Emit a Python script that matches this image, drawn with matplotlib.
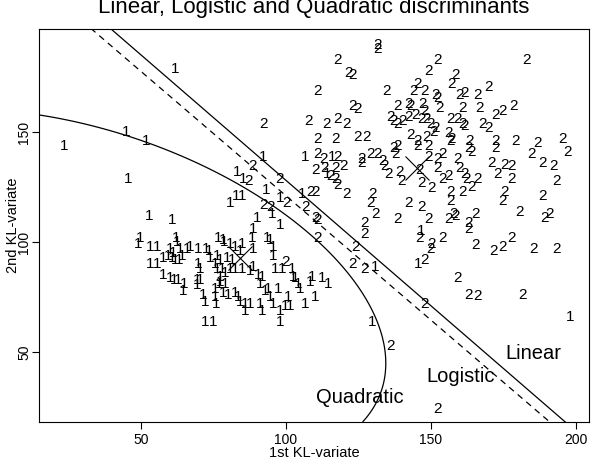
import numpy as np
import matplotlib
matplotlib.use('Agg')
import matplotlib.pyplot as plt

plt.rcParams['font.family'] = ['Liberation Sans', 'DejaVu Sans']

# ---------------- data ----------------
class1_x = [61.7, 44.8, 51.7, 23.4, 45.5, 92.1, 83.1, 85.2, 93.1, 82.8, 84.8, 80.7, 97.9, 95.2, 90.0,
            97.9, 88.6, 106.6, 115.9, 114.1, 105.5, 146.6, 145.5, 130.7, 129.7, 197.9,
            52.8, 60.7, 49.0, 49.7, 53.1, 55.5, 62.1, 62.4, 60.0, 61.0, 63.4, 65.9, 66.9, 69.7, 72.4,
            57.6, 59.3, 60.7, 61.7, 63.1, 64.1, 53.1, 55.5, 57.6, 60.0, 61.4, 62.8, 64.8, 64.5, 69.3,
            70.3, 69.3, 69.7, 70.3, 73.4, 73.8, 75.5, 76.2, 76.2, 77.2, 77.9, 77.2, 76.9, 75.5, 76.6,
            78.6, 71.4, 72.1, 75.5, 75.9, 72.1, 74.8, 78.3, 80.7, 82.4, 84.8, 84.1, 79.7, 81.4, 79.0,
            80.7, 82.4, 84.8, 87.6, 88.6, 90.3, 91.7, 88.3, 93.4, 94.5, 95.5, 88.6, 95.5, 96.2, 98.6,
            102.1, 103.1, 104.1, 104.8, 108.3, 112.4, 114.5, 78.3, 80.0, 82.4, 83.4, 84.1, 85.9, 87.6,
            85.9, 91.0, 91.7, 93.8, 94.5, 95.5, 97.2, 97.9, 97.9, 99.7, 101.4, 100.7, 106.6, 110.0,
            91.0, 92.8, 77.2, 79.0, 109.0, 102.4]
class1_y = [179.1, 150.5, 146.8, 144.1, 129.1, 139.5, 132.3, 129.1, 124.5, 121.4, 121.4, 118.2, 120.5, 113.6, 111.8,
            108.6, 106.8, 139.5, 139.5, 131.4, 122.7, 105.5, 90.5, 89.5, 64.5, 66.4,
            112.3, 110.9, 100.0, 102.3, 98.2, 98.6, 102.3, 100.5, 97.3, 95.9, 97.3, 97.7, 98.2, 97.7, 97.3,
            93.2, 94.1, 93.2, 92.3, 92.7, 94.1, 90.5, 90.5, 85.9, 84.1, 83.6, 83.6, 81.4, 78.2, 83.6,
            83.2, 81.0, 90.9, 88.2, 96.4, 93.2, 90.9, 88.6, 94.1, 92.7, 88.2, 85.0, 81.8, 79.1, 102.3,
            100.9, 76.8, 73.6, 75.9, 72.7, 64.5, 64.5, 101.8, 100.0, 98.6, 100.0, 96.4, 93.2, 92.7, 86.4,
            88.6, 88.2, 88.6, 87.3, 89.5, 85.9, 85.0, 102.3, 102.3, 101.8, 98.6, 97.3, 94.1, 88.6, 88.6,
            88.2, 84.1, 81.4, 79.5, 82.7, 84.1, 81.4, 77.3, 76.8, 77.3, 75.9, 73.6, 72.7, 72.7,
            69.1, 72.7, 69.1, 79.5, 75.9, 72.7, 79.1, 69.1, 64.5, 71.4, 71.4, 75.9, 72.3, 75.9,
            81.4, 78.2, 82.7, 81.8, 85.0, 85.0]

class2_x = [92.1, 88.6, 97.9, 92.1, 94.5, 100.0, 99.7, 110.7, 106.6, 110.0, 110.7, 86.9,
            131.4, 131.7, 117.9, 121.4, 122.8, 152.1, 183.1, 149.0, 158.3, 157.2, 111.0, 134.8, 145.2,
            143.8, 147.9, 151.4, 152.1, 160.0, 161.7, 166.2, 170.0,
            123.1, 124.8, 138.3, 142.1, 142.8, 147.2, 147.9, 153.1, 161.0, 166.9, 172.1, 174.5, 178.3,
            107.9, 114.1, 117.9, 121.0, 135.9, 136.9, 138.6, 140.3, 142.1, 144.5, 146.9, 148.6, 149.7,
            151.4, 156.6, 159.0, 160.7, 161.7, 167.9, 169.7,
            111.0, 116.9, 124.8, 127.9, 142.8, 145.2, 148.6, 150.7, 155.9, 157.2, 156.6, 163.4, 172.1,
            179.0, 186.9, 195.5, 197.2, 136.9, 137.6,
            110.7, 112.8, 117.9, 110.0, 113.4, 116.9, 119.7, 115.2, 116.9, 117.6, 121.0, 108.3, 110.0,
            126.2, 126.2, 129.0, 131.7, 133.4, 134.1, 138.3, 135.2, 139.3, 140.0,
            149.0, 149.0, 152.4, 153.8, 159.3, 162.8, 164.1, 172.1, 184.8, 188.3, 192.1, 145.2, 146.2,
            146.9, 150.3,
            129.7, 129.0, 130.7, 142.1, 146.9, 149.0, 138.3, 127.2, 127.2, 123.8, 146.2, 150.3, 149.7,
            123.1, 127.2, 147.9, 154.1, 159.0, 162.8, 166.2, 181.4,
            165.2, 171.4, 174.5, 177.9, 185.2, 193.4, 147.9, 165.2, 162.8, 162.8, 157.6, 155.9, 158.3,
            180.7, 189.3, 191.0, 188.3, 174.5, 175.5, 156.6, 156.6, 161.0, 164.1, 154.1, 155.9, 160.0,
            161.7, 162.4, 165.9, 171.0, 173.1, 175.5, 177.9, 177.9, 193.4, 152.1, 135.9, 152.1]
class2_y = [154.1, 135.0, 129.5, 117.7, 116.8, 118.2, 91.8, 102.3, 116.8, 111.4, 110.9, 128.2,
            190.0, 188.6, 183.2, 177.3, 176.8, 183.2, 183.2, 178.2, 176.8, 172.3, 169.1, 169.1, 172.7,
            169.1, 169.1, 167.7, 165.9, 167.7, 168.2, 167.7, 170.9,
            162.3, 160.9, 162.3, 163.6, 162.3, 163.6, 160.0, 161.4, 161.4, 161.4, 158.6, 160.0, 162.3,
            155.5, 154.5, 156.4, 154.1, 157.7, 155.5, 154.1, 155.5, 157.7, 158.6, 156.8, 156.4, 154.1,
            152.3, 156.8, 156.4, 154.1, 153.2, 154.1, 152.3,
            147.3, 147.3, 148.6, 148.6, 149.5, 146.4, 148.6, 150.9, 150.0, 147.7, 146.4, 146.4, 146.4,
            146.4, 145.5, 147.7, 141.8, 143.2, 140.9,
            140.5, 138.6, 139.5, 133.6, 134.1, 134.1, 135.0, 130.5, 129.5, 126.8, 122.7, 123.6, 123.6,
            138.6, 136.4, 140.9, 140.9, 137.3, 135.0, 144.1, 131.8, 132.7, 128.2,
            144.1, 139.5, 138.6, 140.5, 138.6, 143.2, 141.8, 143.2, 140.5, 136.4, 135.0, 144.1, 133.6,
            127.3, 125.0,
            122.3, 118.2, 113.6, 118.2, 116.8, 111.0, 111.0, 109.1, 104.1, 98.6, 102.3, 100.0, 97.7,
            90.9, 88.2, 92.7, 102.3, 84.5, 76.8, 76.0, 76.8,
            99.5, 96.4, 98.6, 102.3, 97.3, 97.7, 72.3, 113.2, 109.1, 106.4, 113.2, 111.0, 112.3,
            114.5, 111.4, 113.6, 121.4, 119.1, 123.6, 123.6, 119.1, 123.6, 125.5, 129.1, 130.5, 134.1,
            131.8, 129.5, 129.5, 136.4, 131.4, 135.9, 135.0, 129.5, 128.2, 134.1, 53.2, 25.0]

# group means (drawn as crosses)
means_x = [84.1, 145.2]
means_y = [92.7, 133.6]

# linear and logistic boundaries: intercept, slope
linear_coef = (242.0, -1.14)
logistic_coef = (234.0, -1.13)

# points traced along the quadratic boundary (a conic is fitted through them)
quad_x = [16.6, 44.8, 52.1, 66.9, 79.7, 88.6, 95.5, 100.3, 109.3, 111.7, 119.7, 126.6, 130.0,
          133.4, 134.8, 133.8, 131.7, 129.7, 126.9]
quad_y = [156.4, 150.0, 146.4, 137.3, 126.8, 121.4, 115.5, 112.3, 103.2, 99.5, 88.6, 78.2, 69.1,
          55.5, 46.4, 37.3, 30.5, 24.1, 18.2]

curve_labels = ['Linear', 'Logistic', 'Quadratic']
label_x = [185.2, 160.3, 125.5]
label_y = [49.5, 39.1, 29.5]

xticks = [50, 100, 150, 200]
yticks = [50, 100, 150]

# ---------------- figure ----------------
W, H = 602, 462
fig = plt.figure(figsize=(W / 100, H / 100), dpi=100)
ax = fig.add_axes([39 / W, 1 - 422 / H, 550 / W, 393 / H])
ax.set_xlim(14.8, 204.5)
ax.set_ylim(18.2, 196.8)

for x, y in zip(class1_x, class1_y):
    ax.text(x, y, '1', ha='center', va='center_baseline', fontsize=11)
for x, y in zip(class2_x, class2_y):
    ax.text(x, y, '2', ha='center', va='center_baseline', fontsize=11)

ax.plot(means_x, means_y, linestyle='none', marker='x', markersize=17,
        markeredgewidth=0.8, color='black')

xs = np.linspace(0, 220, 400)
ax.plot(xs, linear_coef[0] + linear_coef[1] * xs, color='black', lw=0.9)
ax.plot(xs, logistic_coef[0] + logistic_coef[1] * xs, color='black', lw=0.9,
        linestyle=(0, (5, 4)))

# weighted conic fit for quadratic boundary
qx = (np.array(quad_x) - 100) / 50
qy = (np.array(quad_y) - 100) / 50
wts = np.where(np.array(quad_y) < 60, 4.0, 1.0)
D = np.column_stack([qx**2, qx * qy, qy**2, qx, qy, np.ones_like(qx)]) * wts[:, None]
_, _, Vt = np.linalg.svd(D)
c = Vt[-1]
gx, gy = np.meshgrid(np.linspace(14.8, 204.5, 600), np.linspace(18.2, 196.8, 600))
u = (gx - 100) / 50
v = (gy - 100) / 50
F = c[0] * u**2 + c[1] * u * v + c[2] * v**2 + c[3] * u + c[4] * v + c[5]
# keep only the arc near the traced points
mask = (gx > 140) | ((gx > 120) & (gy > 140)) | ((gx < 110) & (gy < 70))
F = np.ma.array(F, mask=mask)
ax.contour(gx, gy, F, levels=[0], colors='black', linewidths=0.9)

for t, x, y in zip(curve_labels, label_x, label_y):
    ax.text(x, y, t, ha='center', va='center', fontsize=14.5)

ax.set_xticks(xticks)
ax.set_yticks(yticks)
ax.tick_params(direction='out', length=5, width=0.8, labelsize=10)
ax.tick_params(axis='x', pad=3)
ax.tick_params(axis='y', pad=0.5)
for lab in ax.get_yticklabels():
    lab.set_rotation(90)
    lab.set_va('center')
    lab.set_ha('right')
for s in ax.spines.values():
    s.set_linewidth(0.8)

fig.text(314 / W, 1 - 453 / H, '1st KL-variate', ha='center', va='center', fontsize=10.5)
fig.text(13 / W, 1 - 225 / H, '2nd KL-variate', ha='center', va='center', rotation=90,
         fontsize=10.5)
fig.text(314 / W, 1 - 13 / H, 'Linear, Logistic and Quadratic discriminants',
         ha='center', va='baseline', fontsize=16)

fig.savefig('out.png', dpi=100)
